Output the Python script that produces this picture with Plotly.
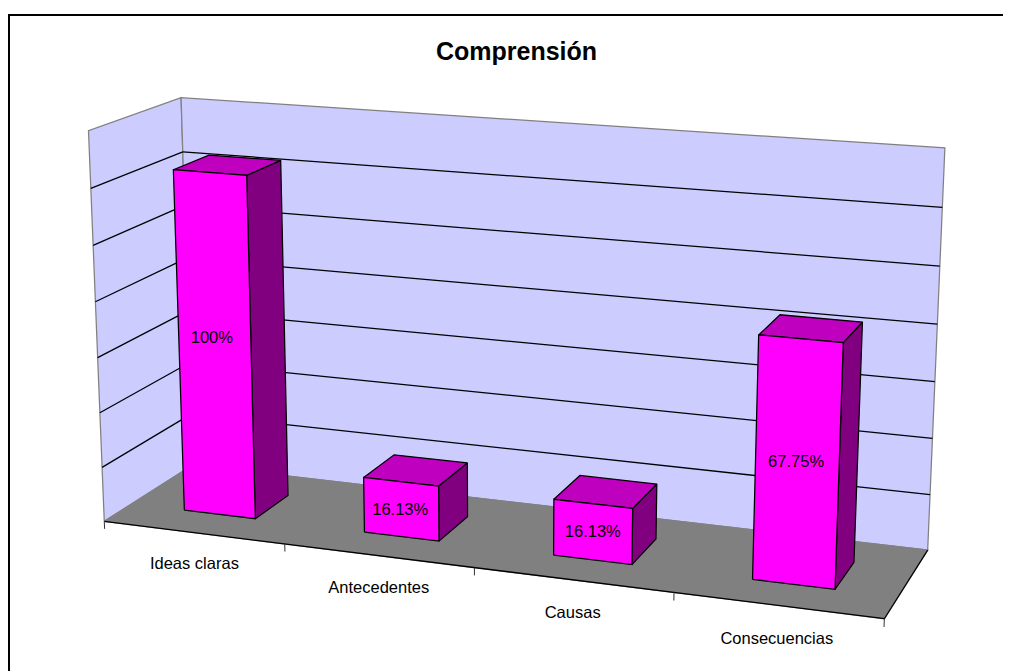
import numpy as np
import plotly.graph_objects as go

# ---- chart data -------------------------------------------------------
categories = ["Ideas claras", "Antecedentes", "Causas", "Consecuencias"]
counts = [31, 5, 5, 21]              # bar heights on the value axis
data_labels = ["100%", "16.13%", "16.13%", "67.75%"]
value_ticks = [0, 5, 10, 15, 20, 25, 30, 35]
title = "Comprensión"

# ---- 3-D box: x = category position, y = depth (0 front, 1 back), z = value
X_MAX, Y_MAX, Z_MAX = len(categories), 1.0, value_ticks[-1]
BAR_W, BAR_D = 0.4, 0.4

# ---- perspective camera, calibrated against box landmarks (x, y, z -> px)
landmarks = [
    (0, 0, 0, 104.7, 521), (1, 0, 0, 284.7, 545), (2, 0, 0, 474, 567.3),
    (3, 0, 0, 674, 592.7), (4, 0, 0, 884.7, 618),
    (0, 0, 35, 88.5, 130.5), (0, 0, 30, 89.3, 189), (0, 0, 25, 93, 245.7),
    (0, 0, 20, 96, 301), (0, 0, 15, 98.7, 358), (0, 0, 10, 99.6, 412.7),
    (0, 0, 5, 102, 467),
    (0, 1, 35, 181.6, 97.5), (0, 1, 30, 183, 151.7), (0, 1, 0, 192, 465),
    (4, 1, 35, 945.3, 148), (4, 1, 30, 942.3, 207.7), (4, 1, 25, 939.7, 266),
    (4, 1, 20, 937, 324), (4, 1, 15, 934.3, 381.5), (4, 1, 10, 932.7, 438.3),
    (4, 1, 5, 930, 495.3), (4, 1, 0, 928, 550),
]
A = []
for x, y, z, u, v in landmarks:
    A.append([x, y, z, 1, 0, 0, 0, 0, -u * x, -u * y, -u * z, -u])
    A.append([0, 0, 0, 0, x, y, z, 1, -v * x, -v * y, -v * z, -v])
P = np.linalg.svd(np.array(A, float))[2][-1].reshape(3, 4)


def project(pts):
    pts = np.asarray(pts, float)
    h = np.c_[pts, np.ones(len(pts))] @ P.T
    return h[:, 0] / h[:, 2], h[:, 1] / h[:, 2]


fig = go.Figure()
LW = 1.25


def face(pts, fill, line=None, lw=LW):
    u, v = project(list(pts) + [pts[0]])
    fig.add_trace(go.Scatter(x=u, y=v, mode="lines", fill="toself", fillcolor=fill,
                             line=dict(color=line or fill, width=lw),
                             hoverinfo="skip", showlegend=False))


def edge(a, b, color, lw=LW):
    u, v = project([a, b])
    fig.add_trace(go.Scatter(x=u, y=v, mode="lines", line=dict(color=color, width=lw),
                             hoverinfo="skip", showlegend=False))


WALL, FLOOR, GREY = "#CCCCFF", "#808080", "#808080"
FRONT, TOP, SIDE = "#FF00FF", "#BF00BF", "#800080"

# walls and floor
face([(0, 0, 0), (0, 1, 0), (0, 1, Z_MAX), (0, 0, Z_MAX)], WALL, GREY)
face([(0, 1, 0), (X_MAX, 1, 0), (X_MAX, 1, Z_MAX), (0, 1, Z_MAX)], WALL, GREY)
face([(0, 0, 0), (X_MAX, 0, 0), (X_MAX, 1, 0), (0, 1, 0)], FLOOR, GREY)
edge((0, 0, 0), (X_MAX, 0, 0), "black")
edge((X_MAX, 0, 0), (X_MAX, 1, 0), "black")

# gridlines
for t in value_ticks[1:-1]:
    edge((0, 0, t), (0, 1, t), "black")
    edge((0, 1, t), (X_MAX, 1, t), "black")

# category ticks
for i in range(len(categories) + 1):
    edge((i, 0, 0), (i, 0, -0.7), "#333333", 1.0)

# bars
for i, c in enumerate(counts):
    x0, x1 = i + 0.5 - BAR_W / 2, i + 0.5 + BAR_W / 2
    y0, y1 = 0.5 - BAR_D / 2, 0.5 + BAR_D / 2
    face([(x1, y0, 0), (x1, y1, 0), (x1, y1, c), (x1, y0, c)], SIDE, "black")
    face([(x0, y0, c), (x1, y0, c), (x1, y1, c), (x0, y1, c)], TOP, "black")
    face([(x0, y0, 0), (x1, y0, 0), (x1, y0, c), (x0, y0, c)], FRONT, "black")

# data labels, on the bars' front faces
lab_u, lab_v = project([(i + 0.5, 0.5 - BAR_D / 2, c / 2) for i, c in enumerate(counts)])
lab_u, lab_v = lab_u + np.array([-3, -1, 0, -1]), lab_v + np.array([-7, 2, 1, 0])
fig.add_trace(go.Scatter(x=lab_u, y=lab_v, mode="text", text=data_labels,
                         textposition="middle center",
                         textfont=dict(family="Liberation Sans", size=16.5, color="black"),
                         hoverinfo="skip", showlegend=False))

# category labels, below the front edge
cat_u, cat_v = project([(i + 0.5, 0, -3.0) for i in range(len(categories))])
fig.add_trace(go.Scatter(x=cat_u, y=cat_v, mode="text", text=categories,
                         textposition="middle center",
                         textfont=dict(family="Liberation Sans", size=16.5, color="black"),
                         hoverinfo="skip", showlegend=False))

# The page sits 8 px inside the window, so the figure and axis ranges start there.
OFF, WIN_W, WIN_H = 8, 1011, 671
W, H = WIN_W - OFF, WIN_H - OFF
fig.update_layout(
    width=W, height=H, margin=dict(l=0, r=0, t=0, b=0),
    paper_bgcolor="white", plot_bgcolor="white", showlegend=False,
    title=dict(text=f"<b>{title}</b>", x=(516.5 - OFF) / W, xanchor="center",
               y=1 - (51 - OFF) / H, yanchor="middle",
               font=dict(family="Liberation Sans", size=25, color="black")),
    xaxis=dict(range=[OFF, WIN_W], visible=False, fixedrange=True),
    yaxis=dict(range=[WIN_H, OFF], visible=False, fixedrange=True),
    shapes=[dict(type="rect", xref="x", yref="y", x0=9, y0=15, x1=1100, y1=800,
                 line=dict(color="black", width=2), layer="below")],
)
fig.write_html("out.html")
